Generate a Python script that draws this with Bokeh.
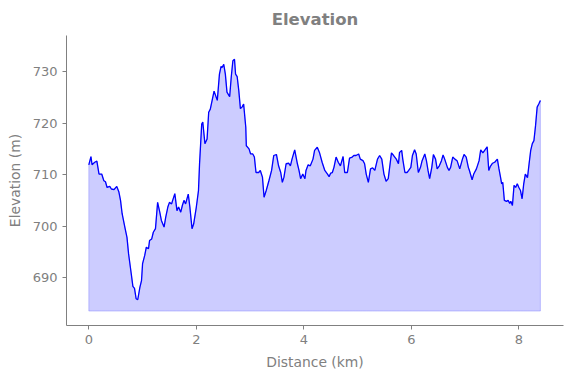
from bokeh.plotting import figure
from bokeh.models import Range1d, FixedTicker
from bokeh.embed import file_html
from bokeh.resources import INLINE

# Distance along the route (km)
distance_km = [
    0.00, 0.04, 0.06, 0.11, 0.15, 0.19, 0.24, 0.28, 0.31, 0.34, 0.39, 0.42, 0.47, 0.52,
    0.56, 0.59, 0.62, 0.67, 0.71, 0.74, 0.79, 0.82, 0.85, 0.88, 0.91, 0.95, 0.98, 1.00,
    1.04, 1.07, 1.11, 1.13, 1.17, 1.20, 1.24, 1.28, 1.32, 1.35, 1.40, 1.43, 1.47, 1.50,
    1.54, 1.56, 1.60, 1.64, 1.67, 1.71, 1.74, 1.77, 1.80, 1.85, 1.88, 1.92, 1.95, 2.00,
    2.04, 2.06, 2.10, 2.12, 2.16, 2.20, 2.23, 2.26, 2.30, 2.33, 2.39, 2.43, 2.46, 2.48,
    2.51, 2.54, 2.57, 2.62, 2.65, 2.68, 2.71, 2.73, 2.76, 2.79, 2.82, 2.85, 2.88, 2.92,
    2.93, 2.98, 3.01, 3.05, 3.08, 3.11, 3.16, 3.19, 3.23, 3.26, 3.30, 3.35, 3.40, 3.44,
    3.49, 3.53, 3.57, 3.60, 3.63, 3.67, 3.72, 3.75, 3.78, 3.83, 3.88, 3.91, 3.94, 3.98,
    4.02, 4.04, 4.08, 4.12, 4.17, 4.20, 4.25, 4.29, 4.34, 4.39, 4.44, 4.47, 4.50, 4.53,
    4.56, 4.60, 4.64, 4.68, 4.73, 4.76, 4.81, 4.85, 4.90, 4.93, 4.97, 5.02, 5.05, 5.10,
    5.13, 5.16, 5.20, 5.24, 5.28, 5.32, 5.37, 5.41, 5.45, 5.49, 5.53, 5.57, 5.63, 5.67,
    5.72, 5.76, 5.78, 5.82, 5.84, 5.88, 5.92, 5.95, 5.99, 6.02, 6.06, 6.09, 6.13, 6.17,
    6.20, 6.25, 6.28, 6.31, 6.34, 6.38, 6.41, 6.45, 6.48, 6.52, 6.56, 6.59, 6.62, 6.67,
    6.70, 6.73, 6.77, 6.81, 6.85, 6.90, 6.95, 6.98, 7.02, 7.06, 7.08, 7.13, 7.16, 7.21,
    7.26, 7.29, 7.33, 7.37, 7.41, 7.44, 7.47, 7.51, 7.55, 7.60, 7.63, 7.66, 7.68, 7.70,
    7.73, 7.77, 7.80, 7.83, 7.85, 7.88, 7.91, 7.94, 7.97, 8.00, 8.03, 8.06, 8.09, 8.12,
    8.16, 8.19, 8.22, 8.25, 8.28, 8.31, 8.34, 8.37, 8.40,
]

# Elevation (m)
elevation_m = [
    711.9, 713.5, 711.9, 712.4, 712.6, 710.1, 710.1, 708.8, 708.6, 707.5, 707.7, 707.2, 707.1, 707.7,
    706.6, 705.0, 702.4, 699.8, 697.8, 694.6, 690.7, 688.3, 687.9, 685.9, 685.7, 688.1, 689.4, 692.7,
    694.3, 695.9, 695.6, 697.2, 697.5, 698.8, 699.5, 704.6, 702.7, 701.1, 699.8, 701.7, 703.7, 704.6,
    704.3, 705.0, 706.3, 703.0, 703.7, 702.7, 704.0, 705.0, 704.3, 706.2, 703.7, 699.5, 700.4, 703.7,
    706.9, 712.1, 719.8, 720.2, 716.0, 716.9, 722.1, 722.7, 724.7, 726.2, 724.4, 729.5, 731.0, 730.8,
    731.4, 729.5, 726.0, 725.1, 729.0, 732.1, 732.4, 729.5, 729.0, 726.3, 722.8, 723.1, 723.7, 719.2,
    715.6, 715.0, 714.0, 714.0, 713.4, 710.4, 710.4, 710.8, 709.5, 705.6, 706.9, 708.8, 710.8, 713.7,
    713.9, 711.7, 710.4, 708.5, 709.5, 712.1, 712.2, 711.7, 713.0, 714.8, 712.1, 710.8, 709.2, 710.1,
    709.2, 710.8, 711.9, 711.7, 713.0, 714.7, 715.3, 714.3, 712.4, 710.8, 710.1, 709.6, 710.3, 710.4,
    711.4, 713.4, 712.4, 711.7, 713.5, 710.4, 710.4, 713.2, 713.4, 713.7, 713.7, 714.0, 713.0, 712.7,
    712.1, 710.1, 708.5, 711.1, 711.3, 710.8, 713.0, 713.7, 713.0, 710.1, 708.7, 709.2, 714.2, 713.7,
    713.0, 712.1, 714.3, 714.7, 713.0, 710.4, 710.4, 710.8, 711.4, 713.7, 714.8, 714.0, 710.4, 711.4,
    712.7, 714.0, 712.7, 710.8, 709.2, 711.4, 713.9, 713.0, 711.1, 711.7, 712.7, 713.8, 713.0, 711.4,
    710.8, 711.4, 713.4, 713.0, 712.7, 711.1, 713.0, 713.9, 713.4, 711.4, 710.8, 709.0, 710.1, 711.1,
    712.7, 714.8, 714.2, 714.8, 715.4, 710.8, 711.6, 712.2, 712.4, 713.0, 711.1, 709.4, 708.2, 708.5,
    705.0, 704.8, 705.0, 704.4, 704.8, 704.0, 707.9, 707.5, 708.2, 707.5, 706.9, 705.3, 708.2, 710.1,
    709.4, 712.1, 714.7, 716.0, 716.6, 719.5, 723.1, 723.7, 724.4,
]

fill_base_m = 683.5
x_ticks = [0, 2, 4, 6, 8]
y_ticks = [690, 700, 710, 720, 730]

GRAY = "#808080"
FONT = "DejaVu Sans"

p = figure(
    width=565, height=373,
    output_backend="svg", toolbar_location=None,
    x_range=Range1d(-0.415, 8.83), y_range=Range1d(680.7, 737.0),
    min_border_left=66, min_border_right=2, min_border_top=35, min_border_bottom=48,
    title="Elevation",
)
p.outline_line_color = None
p.xgrid.visible = False
p.ygrid.visible = False
p.background_fill_color = "white"
p.border_fill_color = "white"

p.title.align = "center"
p.title.text_color = GRAY
p.title.text_font = FONT
p.title.text_font_size = "16.5px"
p.title.text_font_style = "bold"
p.title.standoff = 14

# filled area
xs = list(distance_km) + list(reversed(distance_km))
ys = list(elevation_m) + [fill_base_m] * len(distance_km)
p.patch(xs, ys, fill_color="blue", fill_alpha=0.2, line_color="blue", line_alpha=0.2, line_width=1)
p.line(distance_km, elevation_m, line_color="blue", line_width=1.3)

for ax, ticks, label in ((p.xaxis[0], x_ticks, "Distance (km)"), (p.yaxis[0], y_ticks, "Elevation (m)")):
    ax.ticker = FixedTicker(ticks=ticks)
    ax.minor_tick_line_color = None
    ax.major_tick_in = 0
    ax.major_tick_out = 4
    ax.major_tick_line_color = GRAY
    ax.axis_line_color = GRAY
    ax.major_label_text_color = GRAY
    ax.major_label_text_font = FONT
    ax.major_label_text_font_size = "13px"
    ax.major_label_standoff = 5
    ax.axis_label = label
    ax.axis_label_text_color = GRAY
    ax.axis_label_text_font = FONT
    ax.axis_label_text_font_size = "13.9px"
    ax.axis_label_text_font_style = "normal"
    ax.axis_label_standoff = 7

open("out.html", "w").write(file_html(p, INLINE))
